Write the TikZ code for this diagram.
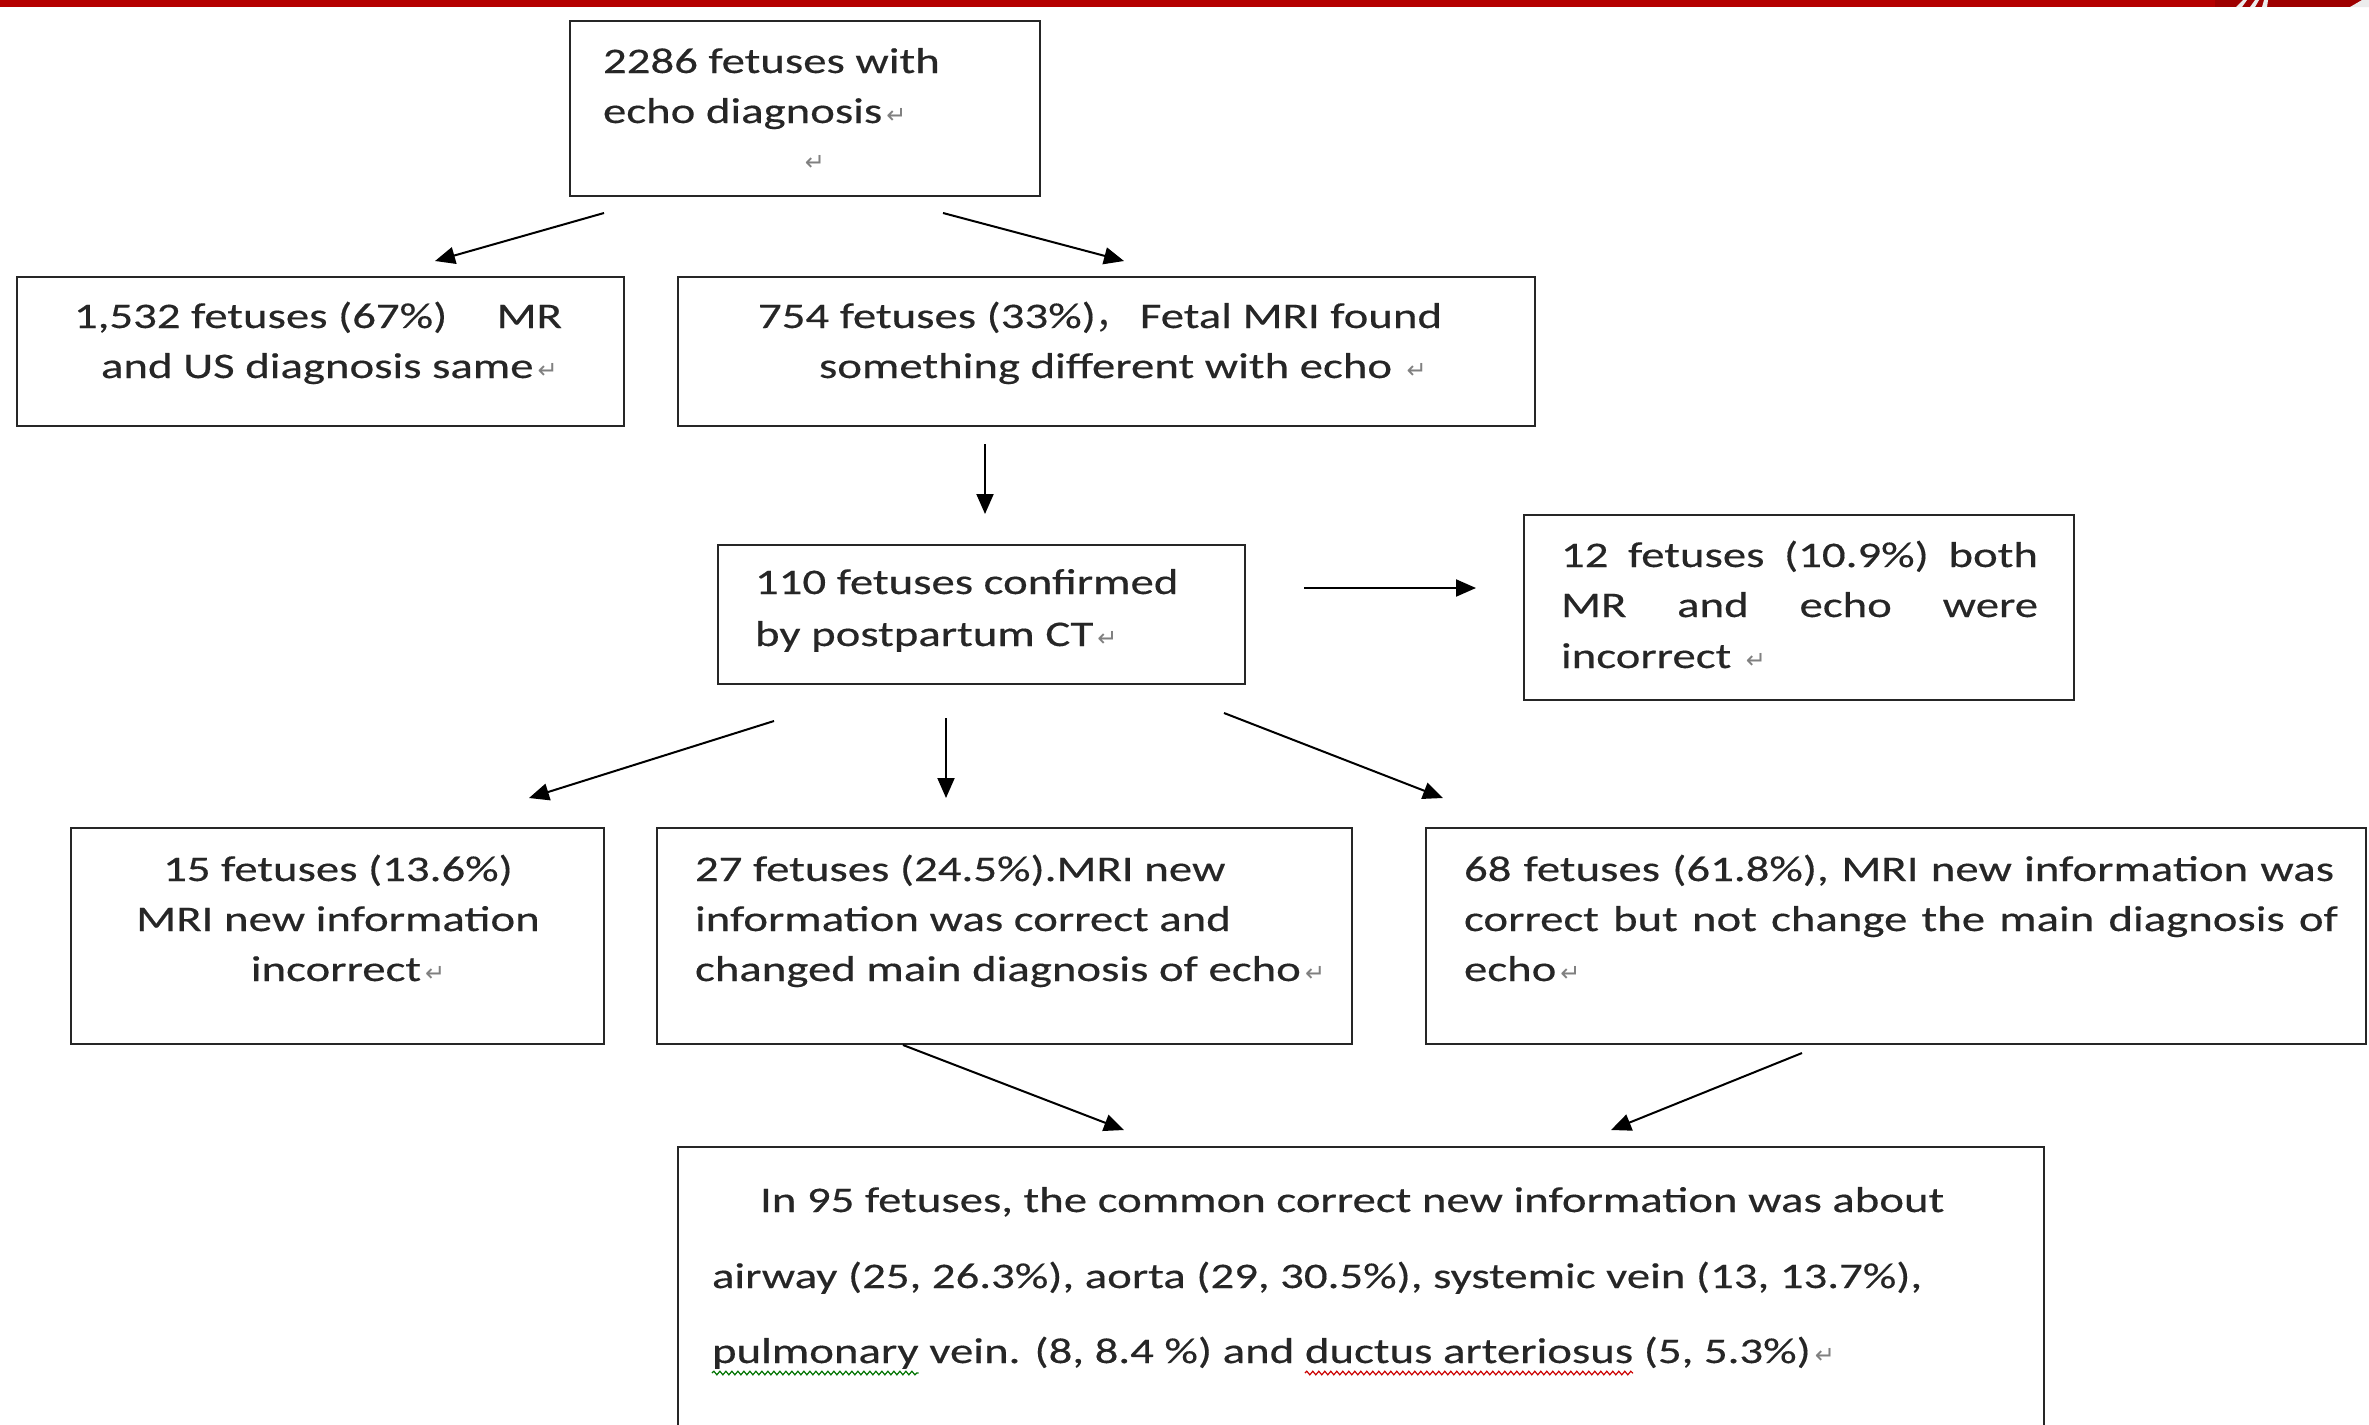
\documentclass[tikz,border=0pt]{standalone}
\usepackage{fontspec}
\setmainfont{Carlito}[FakeStretch=1.3,FakeBold=0.35]
\newfontfamily\djv{DejaVu Sans}
\newfontfamily\cjk{Noto Sans CJK SC}
\usetikzlibrary{arrows.meta,decorations.pathmorphing}
\definecolor{barred}{RGB}{181,0,0}
\definecolor{logored}{RGB}{158,0,0}
\newcommand\retmark{{\djv\fontsize{12}{12}\selectfont\color{black!50}\,↵}}
\tikzset{
  box/.style={draw=black!85, line width=1.3pt, rectangle, inner sep=0pt, outer sep=0pt},
  txt/.style={inner sep=0pt, outer sep=0pt, text=black!85, font=\fontsize{18}{25}\selectfont},
  arr/.style={-{Triangle[length=10pt,width=8.5pt]}, line width=1pt, draw=black},
  wavy/.style={decorate, decoration={snake, amplitude=0.9pt, segment length=3pt}, line width=0.6pt},
}
\begin{document}
\begin{tikzpicture}[x=0.5pt,y=-0.5pt]
\useasboundingbox (0,0) rectangle (2369,1424);
\clip (0,0) rectangle (2369,1424);
\fill[white] (0,0) rectangle (2369,1424);
% top bar
\fill[barred] (0,0) rectangle (2369,7);
\fill[logored] (2215,0) rectangle (2369,7);
\fill[white!85!gray] (2236,7) -- (2243,0) -- (2247,0) -- (2242,7) -- cycle;
\fill[white!85!gray] (2250,7) -- (2255,0) -- (2259,0) -- (2255,7) -- cycle;
\fill[white!85!gray] (2262,7) -- (2264,0) -- (2268,0) -- (2267,7) -- cycle;
\fill[white!85!gray] (2350,7) -- (2362,0) -- (2369,0) -- (2369,7) -- cycle;

% boxes
\node[box, minimum width=235pt, minimum height=87.5pt] (b1) at (805,108.5) {};
\node[box, minimum width=303.5pt, minimum height=74.5pt] (b2) at (320.5,351.5) {};
\node[box, minimum width=428.5pt, minimum height=74.5pt] (b3) at (1106.5,351.5) {};
\node[box, minimum width=263.5pt, minimum height=69.5pt] (b4) at (981.5,614.5) {};
\node[box, minimum width=275pt, minimum height=92.5pt] (b5) at (1799,607.5) {};
\node[box, minimum width=266.5pt, minimum height=108pt] (b6) at (337.5,936) {};
\node[box, minimum width=347.5pt, minimum height=108pt] (b7) at (1004.5,936) {};
\node[box, minimum width=470pt, minimum height=108pt] (b8) at (1896,936) {};
\node[box, minimum width=683pt, minimum height=146.5pt] (b9) at (1361,1293.5) {};

% texts
\node[txt, anchor=base west] (t1a) at (603,73) {2286 fetuses with};
\node[txt, anchor=base west] (t1b) at (603,123) {echo diagnosis\retmark};
\node[txt, anchor=center] (t1c) at (813,163) {\retmark};

\node[txt, anchor=base west] (t2a) at (74,328) {\makebox[244pt][s]{1,532 fetuses (67\%)\hspace{10pt plus 1fill}MR}};
\node[txt, anchor=base west] (t2b) at (101,378) {and US diagnosis same\retmark};

\node[txt, anchor=base west] (t3a) at (758,328) {754 fetuses (33\%){\cjk ，}\hspace{4pt}Fetal MRI found};
\node[txt, anchor=base west] (t3b) at (819,378) {something different with echo \retmark};

\node[txt, anchor=base west] (t4a) at (755,594) {110 fetuses confirmed};
\node[txt, anchor=base west] (t4b) at (755,646) {by postpartum CT\retmark};

\node[txt, anchor=base west] (t5a) at (1561,567) {\makebox[238.5pt][s]{12 fetuses (10.9\%) both}};
\node[txt, anchor=base west] (t5b) at (1561,617) {\makebox[238.5pt][s]{MR and echo were}};
\node[txt, anchor=base west] (t5c) at (1561,668) {incorrect \retmark};

\node[txt, anchor=base] (t6a) at (338,881) {15 fetuses (13.6\%)};
\node[txt, anchor=base] (t6b) at (338,931) {MRI new information};
\node[txt, anchor=base] (t6c) at (348,981) {incorrect\retmark};

\node[txt, anchor=base west] (t7a) at (695,881) {27 fetuses (24.5\%).MRI new};
\node[txt, anchor=base west] (t7b) at (695,931) {information was correct and};
\node[txt, anchor=base west] (t7c) at (695,981) {changed main diagnosis of echo\retmark};

\node[txt, anchor=base west] (t8a) at (1464,881) {\makebox[435pt][s]{68 fetuses (61.8\%), MRI new information was}};
\node[txt, anchor=base west] (t8b) at (1464,931) {\makebox[437pt][s]{correct but not change the main diagnosis of}};
\node[txt, anchor=base west] (t8c) at (1464,981) {echo\retmark};

\node[txt, anchor=base west] (t9a) at (760,1212) {In 95 fetuses, the common correct new information was about};
\node[txt, anchor=base west] (t9b) at (712,1288) {airway (25, 26.3\%), aorta (29, 30.5\%), systemic vein (13, 13.7\%),};
\node[txt, anchor=base west] (w1) at (712,1363) {pulmonary};
\node[txt, anchor=base west] (w2) at (w1.base east) {\strut\ vein. (8, 8.4 \%) and\ \strut};
\node[txt, anchor=base west] (w3) at (w2.base east) {ductus arteriosus};
\node[txt, anchor=base west] (w4) at (w3.base east) {\strut\ (5, 5.3\%)\retmark};
\draw[wavy, green!45!black] ([yshift=-5pt]w1.base west) -- ([yshift=-5pt]w1.base east);
\draw[wavy, red!80!black] ([yshift=-5pt]w3.base west) -- ([yshift=-5pt]w3.base east);

% arrow end points
\coordinate (a1s) at (604,213);  \coordinate (a1e) at (435,261);
\coordinate (a2s) at (943,213);  \coordinate (a2e) at (1124,261);
\coordinate (a3s) at (985,444);  \coordinate (a3e) at (985,514);
\coordinate (a4s) at (1304,588); \coordinate (a4e) at (1476,588);
\coordinate (a5s) at (774,721);  \coordinate (a5e) at (529,798);
\coordinate (a6s) at (946,718);  \coordinate (a6e) at (946,798);
\coordinate (a7s) at (1224,713); \coordinate (a7e) at (1443,798);
\coordinate (a8s) at (903,1045); \coordinate (a8e) at (1124,1130);
\coordinate (a9s) at (1802,1053);\coordinate (a9e) at (1611,1130);
\foreach \i in {1,...,9} \draw[arr] (a\i s) -- (a\i e);
\end{tikzpicture}
\end{document}
